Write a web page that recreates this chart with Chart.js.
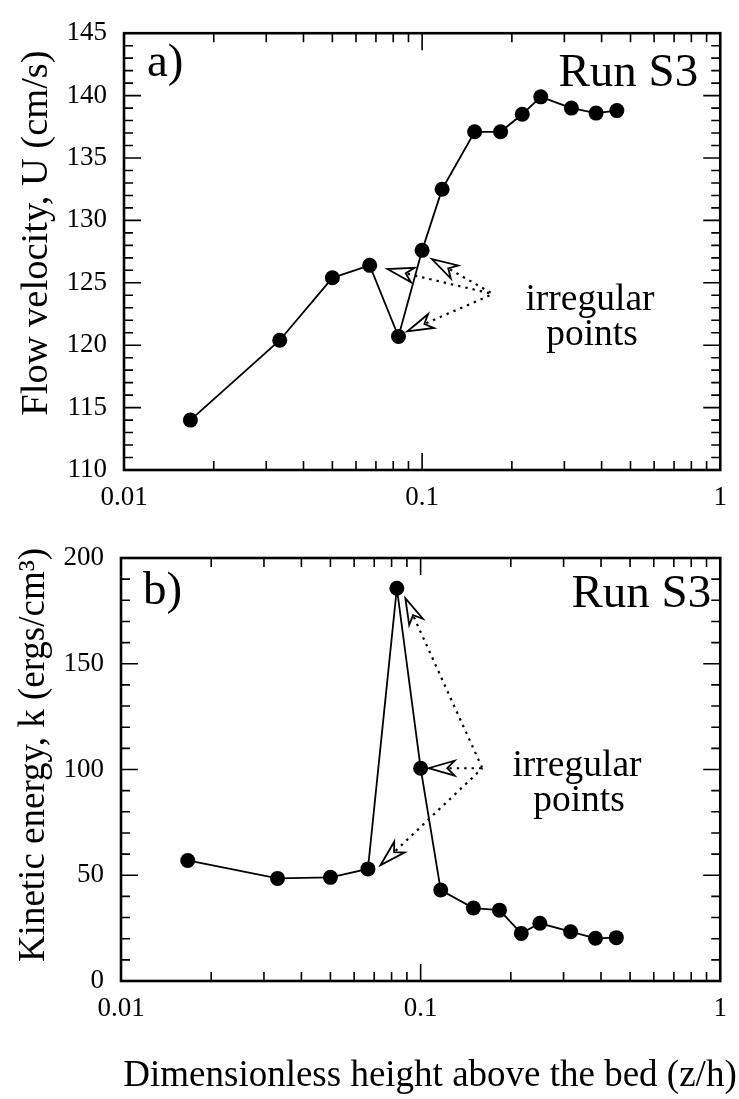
<!DOCTYPE html>
<html>
<head>
<meta charset="utf-8">
<script src="https://cdn.jsdelivr.net/npm/chart.js@4.4.1/dist/chart.umd.min.js"></script>
<style>
  html, body { margin: 0; padding: 0; background: #fff; }
  #wrap { position: relative; width: 739px; height: 1099px; }
  #wrap canvas { position: absolute; left: 0; }
</style>
</head>
<body>
<div id="wrap">
  <canvas id="chartU" width="739" height="520" style="top:0"></canvas>
  <canvas id="chartK" width="739" height="579" style="top:520px"></canvas>
</div>
<script>
// sampling heights z/h, shared by both profiles
const heights  = [0.0167, 0.0333, 0.05, 0.0667, 0.0833, 0.1, 0.1167, 0.15, 0.1833, 0.2167, 0.25, 0.3167, 0.3833, 0.45];
// mean flow velocity U (cm/s)
const velocity = [114.0, 120.4, 125.4, 126.4, 120.7, 127.6, 132.5, 137.1, 137.1, 138.5, 139.9, 139.0, 138.6, 138.8];
// turbulent kinetic energy k (ergs/cm^3)
const kinetic  = [57, 48.5, 49, 53, 185.7, 100.6, 43, 34.5, 33.5, 22.5, 27.3, 23.3, 20.2, 20.5];

const xTicks      = [0.01, 0.1, 1];
const xTickLabels = ['0.01', '0.1', '1'];
const runName     = 'Run S3';
const noteLines   = ['irregular', 'points'];
const xTitle      = 'Dimensionless height above the bed (z/h)';

// arrow tips [z/h, value] for the flagged samples, and the point their leaders meet
const uArrowTips = [[0.0765, 126.1], [0.1079, 126.9], [0.0891, 121.1]];
const uArrowHub  = [0.173, 124.1];
const kArrowTips = [[0.0889, 181.0], [0.1063, 100.6], [0.0735, 54.8]];
const kArrowHub  = [0.1607, 100.6];

const serif = '"Liberation Serif", "Times New Roman", serif';

// frame, inward ticks on all sides, leader arrows and text notes
const decorations = {
  id: 'decorations',
  afterDatasetsDraw(chart, args, o) {
    const { ctx, chartArea: a, scales: { x, y } } = chart;
    ctx.save();
    ctx.strokeStyle = '#000';
    ctx.fillStyle = '#000';

    ctx.lineWidth = 2.6;
    ctx.strokeRect(a.left, a.top, a.right - a.left, a.bottom - a.top);

    ctx.lineWidth = 1.6;
    ctx.beginPath();
    for (const dec of [0.01, 0.1]) {
      for (let m = 1; m <= 10; m++) {
        const px = x.getPixelForValue(dec * m);
        const len = (m === 1 || m === 10) ? 17 : 9;
        ctx.moveTo(px, a.bottom); ctx.lineTo(px, a.bottom - len);
        ctx.moveTo(px, a.top);    ctx.lineTo(px, a.top + len);
      }
    }
    const n = Math.round((y.max - y.min) / o.minor);
    for (let i = 0; i <= n; i++) {
      const v = y.min + i * o.minor;
      const py = y.getPixelForValue(v);
      const len = (Math.round(v) % o.major === 0) ? 17 : 9;
      ctx.moveTo(a.left, py);  ctx.lineTo(a.left + len, py);
      ctx.moveTo(a.right, py); ctx.lineTo(a.right - len, py);
    }
    ctx.stroke();

    // dotted leaders with open arrowheads
    const hx = x.getPixelForValue(o.hub[0]), hy = y.getPixelForValue(o.hub[1]);
    const L = 26, W = 15;
    for (const [tv, yv] of o.tips) {
      const tx = x.getPixelForValue(tv), ty = y.getPixelForValue(yv);
      const d = Math.hypot(hx - tx, hy - ty);
      const ux = (hx - tx) / d, uy = (hy - ty) / d;
      const nx = -uy, ny = ux;
      ctx.setLineDash([2.4, 5]);
      ctx.lineWidth = 2.2;
      ctx.beginPath();
      ctx.moveTo(tx + ux * L * 0.8, ty + uy * L * 0.8);
      ctx.lineTo(hx, hy);
      ctx.stroke();
      ctx.setLineDash([]);
      ctx.beginPath();
      ctx.moveTo(tx, ty);
      ctx.lineTo(tx + ux * L + nx * W / 2, ty + uy * L + ny * W / 2);
      ctx.lineTo(tx + ux * L * 0.72, ty + uy * L * 0.72);
      ctx.lineTo(tx + ux * L - nx * W / 2, ty + uy * L - ny * W / 2);
      ctx.closePath();
      ctx.fillStyle = '#fff';
      ctx.fill();
      ctx.lineWidth = 1.8;
      ctx.stroke();
    }

    ctx.fillStyle = '#000';
    ctx.textBaseline = 'alphabetic';
    ctx.font = '47px ' + serif;
    ctx.textAlign = 'left';
    ctx.fillText(o.panel, a.left + o.panelAt[0], a.top + o.panelAt[1]);
    ctx.textAlign = 'right';
    ctx.fillText(runName, a.right - o.runAt[0], a.top + o.runAt[1]);
    ctx.font = '37.5px ' + serif;
    ctx.textAlign = 'center';
    ctx.fillText(noteLines[0], a.left + o.noteAt[0], a.top + o.noteAt[1]);
    ctx.fillText(noteLines[1], a.left + o.noteAt[0] + 2, a.top + o.noteAt[1] + 35);

    // x-axis title under the lower panel only
    if (o.xTitleAt) {
      ctx.font = '37px ' + serif;
      ctx.fillText(xTitle, o.xTitleAt[0], o.xTitleAt[1]);
    }

    // rotated y-axis title
    ctx.font = o.yTitleSize + 'px ' + serif;
    ctx.textBaseline = 'middle';
    ctx.translate(o.yTitleAt[0], o.yTitleAt[1]);
    ctx.rotate(-Math.PI / 2);
    ctx.fillText(o.yTitle, 0, 0);
    ctx.restore();
  }
};

function profileChart(id, values, cfg) {
  return new Chart(document.getElementById(id), {
    type: 'line',
    data: {
      datasets: [{
        data: heights.map((h, i) => ({ x: h, y: values[i] })),
        borderColor: '#000',
        borderWidth: 1.8,
        pointRadius: 7.5,
        pointBorderWidth: 0,
        pointBackgroundColor: '#000',
        tension: 0
      }]
    },
    options: {
      responsive: false,
      animation: false,
      devicePixelRatio: 1,
      layout: { padding: { top: cfg.padTop, right: cfg.padRight, left: 0, bottom: 0 } },
      plugins: {
        legend: { display: false },
        tooltip: { enabled: false },
        decorations: cfg.notes
      },
      scales: {
        x: {
          type: 'logarithmic',
          min: 0.01, max: 1,
          afterBuildTicks: s => { s.ticks = xTicks.map(v => ({ value: v })); },
          afterFit: s => { s.height = cfg.xHeight; },
          ticks: {
            autoSkip: false, maxRotation: 0, padding: 12, color: '#000',
            font: { family: serif, size: 27 },
            callback: v => xTickLabels[xTicks.indexOf(v)] ?? ''
          },
          grid: { display: false, drawTicks: false },
          border: { display: false },
          title: { display: false }
        },
        y: {
          min: cfg.yMin, max: cfg.yMax,
          afterFit: s => { s.width = cfg.yWidth; },
          ticks: {
            stepSize: cfg.yStep, padding: 17, color: '#000',
            font: { family: serif, size: 27 }
          },
          grid: { display: false, drawTicks: false },
          border: { display: false },
          title: { display: false }
        }
      }
    },
    plugins: [decorations]
  });
}

profileChart('chartU', velocity, {
  padTop: 19, padRight: 13, xHeight: 50, yWidth: 124,
  yMin: 110, yMax: 145, yStep: 5,
  notes: { minor: 1, major: 5, hub: uArrowHub, tips: uArrowTips, panel: 'a)',
           panelAt: [23, 43], runAt: [22, 53], noteAt: [466, 277],
           yTitle: 'Flow velocity, U (cm/s)', yTitleSize: 38.5, yTitleAt: [37, 233] }
});

profileChart('chartK', kinetic, {
  padTop: 38, padRight: 16, xHeight: 118, yWidth: 121,
  yMin: 0, yMax: 200, yStep: 50,
  notes: { minor: 10, major: 50, hub: kArrowHub, tips: kArrowTips, panel: 'b)',
           panelAt: [22, 46], runAt: [9, 49], noteAt: [456, 218],
           yTitle: 'Kinetic energy, k (ergs/cm³)', yTitleSize: 37, yTitleAt: [34, 235],
           xTitleAt: [430, 566] }
});
</script>
</body>
</html>
